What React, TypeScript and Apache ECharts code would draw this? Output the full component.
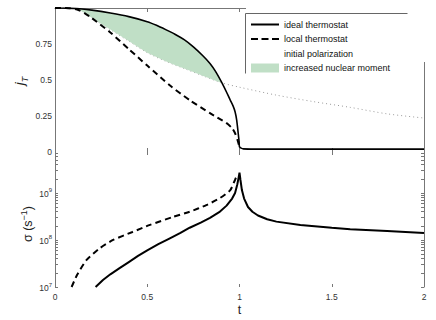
import React, { useEffect, useRef } from "react";
import * as echarts from "echarts";

// ---------- data ----------
const xTicks = [0, 0.5, 1, 1.5, 2];
const jTicks = [0, 0.25, 0.5, 0.75];
const sigmaDecades = [7, 8, 9];
const minorMultipliers = [2, 3, 4, 5, 6, 7, 8, 9];

// top panel: j_T(t)
const idealJ: [number, number][] = [
  [0, 1], [0.06, 0.999], [0.12, 0.996], [0.2, 0.985], [0.3, 0.965], [0.4, 0.94],
  [0.5, 0.905], [0.55, 0.88], [0.6, 0.85], [0.65, 0.818], [0.7, 0.78], [0.75, 0.73],
  [0.8, 0.67], [0.84, 0.615], [0.87, 0.56], [0.905, 0.48], [0.93, 0.415], [0.95, 0.36],
  [0.965, 0.32], [0.976, 0.28], [0.985, 0.22], [0.993, 0.13], [0.998, 0.07],
  [1.0, 0.035], [1.02, 0.022], [1.2, 0.02], [2.0, 0.02],
];
const localJ: [number, number][] = [
  [0, 1], [0.08, 0.999], [0.12, 0.99], [0.16, 0.965], [0.2, 0.93], [0.3, 0.83],
  [0.4, 0.715], [0.5, 0.6], [0.62, 0.465], [0.73, 0.36], [0.84, 0.27], [0.93, 0.2],
  [0.96, 0.165], [0.976, 0.13], [0.99, 0.08], [1.0, 0.035],
];
const initialJ: [number, number][] = [
  [0, 1], [0.12, 0.996], [0.2, 0.93], [0.3, 0.85], [0.4, 0.77], [0.5, 0.69],
  [0.6, 0.63], [0.7, 0.58], [0.8, 0.53], [0.905, 0.48], [1.0, 0.45], [1.2, 0.395],
  [1.4, 0.35], [1.6, 0.31], [1.8, 0.265], [2.0, 0.236],
];
// green band between initial polarization (lower) and ideal thermostat (upper)
const bandT = [0.12, 0.16, 0.2, 0.25, 0.3, 0.35, 0.4, 0.45, 0.5, 0.55, 0.6, 0.65, 0.7, 0.75, 0.8, 0.84, 0.87, 0.905];
const bandLower = [0.996, 0.965, 0.93, 0.89, 0.85, 0.81, 0.77, 0.73, 0.69, 0.66, 0.63, 0.605, 0.58, 0.555, 0.53, 0.51, 0.495, 0.48];
const bandUpper = [0.996, 0.992, 0.985, 0.976, 0.965, 0.953, 0.94, 0.924, 0.905, 0.88, 0.85, 0.818, 0.78, 0.73, 0.67, 0.615, 0.56, 0.48];

// bottom panel: log10 sigma (s^-1)
const idealSigmaLog: [number, number][] = [
  [0.22, 7.0], [0.26, 7.15], [0.3, 7.27], [0.35, 7.4], [0.4, 7.53], [0.45, 7.66],
  [0.5, 7.78], [0.56, 7.91], [0.62, 8.03], [0.68, 8.15], [0.73, 8.26], [0.79, 8.37],
  [0.84, 8.47], [0.89, 8.59], [0.93, 8.73], [0.96, 8.88], [0.976, 9.0], [0.988, 9.18],
  [0.995, 9.32], [1.0, 9.43], [1.005, 9.28], [1.013, 9.06], [1.025, 8.88],
  [1.046, 8.7], [1.07, 8.6], [1.1, 8.52], [1.15, 8.44], [1.2, 8.39], [1.33, 8.32],
  [1.5, 8.26], [1.6, 8.23], [1.8, 8.19], [2.0, 8.15],
];
const localSigmaLog: [number, number][] = [
  [0.09, 7.0], [0.12, 7.26], [0.17, 7.57], [0.245, 7.83], [0.315, 8.0], [0.42, 8.17],
  [0.515, 8.32], [0.64, 8.49], [0.73, 8.6], [0.82, 8.74], [0.894, 8.89], [0.95, 9.06],
  [0.976, 9.28], [0.985, 9.36],
];

// ---------- styles ----------
const FONT = "'Liberation Sans', Arial, sans-serif";
const AXIS = "#777";
const GREEN = "#c0dfc6";
const labelBase = { color: "#333", fontSize: 8.5, fontFamily: FONT };
const SOLID_ICON = "path://M0,0H28V2H0Z";
const DASH_ICON = "path://M0,0H7V2H0Z M10.5,0H17.5V2H10.5Z M21,0H28V2H21Z";

const minorTicks: number[] = [];
sigmaDecades.forEach((d) =>
  minorMultipliers.forEach((m) => {
    const v = d + Math.log10(m);
    if (v < 9.87) minorTicks.push(v);
  })
);
const sigmaTickValues = [...sigmaDecades, ...minorTicks].sort((a, b) => a - b);

const hiddenLine = { show: false, onZero: false };
const shownLine = { show: true, onZero: false, lineStyle: { color: AXIS, width: 1 } };
const tickIn = (len: number) => ({ show: true, inside: true, length: len, lineStyle: { color: AXIS, width: 1 } });

export default function App() {
  const ref = useRef<HTMLDivElement>(null);
  useEffect(() => {
    if (!ref.current) return;
    const chart = echarts.init(ref.current, null, { renderer: "svg" });
    const xBase = { type: "value", min: 0, max: 2, interval: 0.5, splitLine: { show: false } };
    const option: any = {
      animation: false,
      backgroundColor: "#fff",
      grid: [
        { left: 55, top: 8, width: 369, height: 144 },
        { left: 55, top: 152, width: 369, height: 135 },
      ],
      xAxis: [
        { ...xBase, gridIndex: 0, position: "bottom", axisLine: hiddenLine, axisTick: tickIn(4), axisLabel: { show: false } },
        { ...xBase, gridIndex: 0, position: "top", axisLine: shownLine, axisTick: tickIn(4), axisLabel: { show: false } },
        {
          ...xBase, gridIndex: 1, position: "bottom", axisLine: hiddenLine, axisTick: tickIn(3),
          axisLabel: { ...labelBase, margin: 5, customValues: xTicks, formatter: (v: number) => String(v) },
          name: "t", nameLocation: "middle", nameGap: 16,
          nameTextStyle: { fontSize: 12.5, color: "#222", fontFamily: FONT },
        },
        { ...xBase, gridIndex: 1, position: "top", axisLine: hiddenLine, axisTick: tickIn(3), axisLabel: { show: false } },
      ],
      yAxis: [
        {
          type: "value", gridIndex: 0, position: "left", min: 0, max: 1, interval: 0.25,
          axisLine: shownLine, axisTick: { show: false }, splitLine: { show: false },
          axisLabel: { ...labelBase, margin: 3, customValues: jTicks, formatter: (v: number) => String(v) },
        },
        {
          type: "value", gridIndex: 0, position: "right", min: 0, max: 1, interval: 0.25,
          axisLine: shownLine, axisTick: { show: false }, axisLabel: { show: false }, splitLine: { show: false },
        },
        {
          type: "value", gridIndex: 1, position: "left", min: 7, max: 9.87, interval: 1,
          axisLine: shownLine, splitLine: { show: false },
          axisTick: { ...tickIn(3), customValues: sigmaTickValues },
          axisLabel: {
            ...labelBase, margin: 3, customValues: sigmaDecades,
            formatter: (v: number) => `{b|10}{e|${Math.round(v)}}`,
            rich: {
              b: { fontSize: 8.5, color: "#333", fontFamily: FONT, verticalAlign: "bottom" },
              e: { fontSize: 6, color: "#333", fontFamily: FONT, verticalAlign: "bottom", padding: [0, 0, 5, 0] },
            },
          },
        },
        {
          type: "value", gridIndex: 1, position: "right", min: 7, max: 9.87, interval: 1,
          axisLine: shownLine, splitLine: { show: false },
          axisTick: { ...tickIn(3), customValues: sigmaTickValues }, axisLabel: { show: false },
        },
      ],
      legend: {
        orient: "vertical", left: 251, top: 20, itemWidth: 28, itemHeight: 9, itemGap: 5.5,
        padding: 0, selectedMode: false, z: 6, symbolKeepAspect: true,
        textStyle: { fontSize: 9, color: "#111", fontFamily: FONT },
        data: [
          { name: "ideal thermostat", icon: SOLID_ICON, itemStyle: { color: "#000", borderWidth: 0 } },
          { name: "local thermostat", icon: DASH_ICON, itemStyle: { color: "#000", borderWidth: 0 } },
          { name: "initial polarization", icon: "rect", itemStyle: { color: "rgba(0,0,0,0)", borderWidth: 0, opacity: 0 } },
          { name: "increased nuclear moment", icon: "rect", itemStyle: { color: GREEN, borderWidth: 0 } },
        ],
      },
      graphic: [
        { type: "rect", z: 5, shape: { x: 246, y: 0, width: 190, height: 62 }, style: { fill: "#fff" } },
        { type: "line", z: 7, shape: { x1: 245.5, y1: 13.5, x2: 407.5, y2: 13.5 }, style: { stroke: "#666", lineWidth: 1 } },
        { type: "line", z: 7, shape: { x1: 245.5, y1: 13.5, x2: 245.5, y2: 73.5 }, style: { stroke: "#666", lineWidth: 1 } },
        {
          type: "text", z: 7, x: 21, y: 81, rotation: Math.PI / 2,
          style: {
            text: "{j|j}{s|T}", align: "center", verticalAlign: "middle",
            rich: {
              j: { fontSize: 13, fontStyle: "italic", fontFamily: FONT, fill: "#222", verticalAlign: "bottom", padding: [0, 0, 4, 0] },
              s: { fontSize: 9, fontStyle: "italic", fontFamily: FONT, fill: "#222", verticalAlign: "bottom" },
            },
          },
        },
        {
          type: "text", z: 7, x: 27, y: 224, rotation: Math.PI / 2,
          style: {
            text: "{b|σ (s}{e|−1}{b|)}", align: "center", verticalAlign: "middle",
            rich: {
              b: { fontSize: 12.5, fontFamily: FONT, fill: "#222", verticalAlign: "bottom" },
              e: { fontSize: 9, fontFamily: FONT, fill: "#222", verticalAlign: "bottom", padding: [0, 0, 6, 0] },
            },
          },
        },
      ],
      series: [
        {
          name: "initial polarization", type: "line", xAxisIndex: 0, yAxisIndex: 0, data: initialJ,
          symbol: "none", smooth: 0.3, z: 1, lineStyle: { color: "#9a9a9a", width: 1, type: [1, 3] },
        },
        {
          name: "increased nuclear moment", type: "custom", xAxisIndex: 0, yAxisIndex: 0,
          data: [[bandT[0], bandLower[0]]], z: 2, silent: true, itemStyle: { color: GREEN },
          renderItem: (_p: any, api: any) => {
            const pts: number[][] = [];
            bandT.forEach((t, i) => pts.push(api.coord([t, bandUpper[i]])));
            for (let i = bandT.length - 1; i >= 0; i--) pts.push(api.coord([bandT[i], bandLower[i]]));
            return { type: "polygon", shape: { points: pts }, style: { fill: GREEN } };
          },
        },
        {
          name: "ideal thermostat", type: "line", xAxisIndex: 0, yAxisIndex: 0, data: idealJ,
          symbol: "none", smooth: 0.2, z: 3, lineStyle: { color: "#000", width: 1.6 }, itemStyle: { color: "#000" },
        },
        {
          name: "local thermostat", type: "line", xAxisIndex: 0, yAxisIndex: 0, data: localJ,
          symbol: "none", smooth: 0.2, z: 3, lineStyle: { color: "#000", width: 2, type: [6, 4] }, itemStyle: { color: "#000" },
        },
        {
          name: "ideal thermostat", type: "line", xAxisIndex: 2, yAxisIndex: 2, data: idealSigmaLog,
          symbol: "none", smooth: false, z: 3, lineStyle: { color: "#000", width: 2 },
        },
        {
          name: "local thermostat", type: "line", xAxisIndex: 2, yAxisIndex: 2, data: localSigmaLog,
          symbol: "none", smooth: 0.2, z: 3, lineStyle: { color: "#000", width: 2, type: [6, 4] },
        },
      ],
    };
    chart.setOption(option);
    return () => chart.dispose();
  }, []);
  return <div ref={ref} style={{ position: "fixed", left: 0, top: 0, width: 436, height: 320 }} />;
}
